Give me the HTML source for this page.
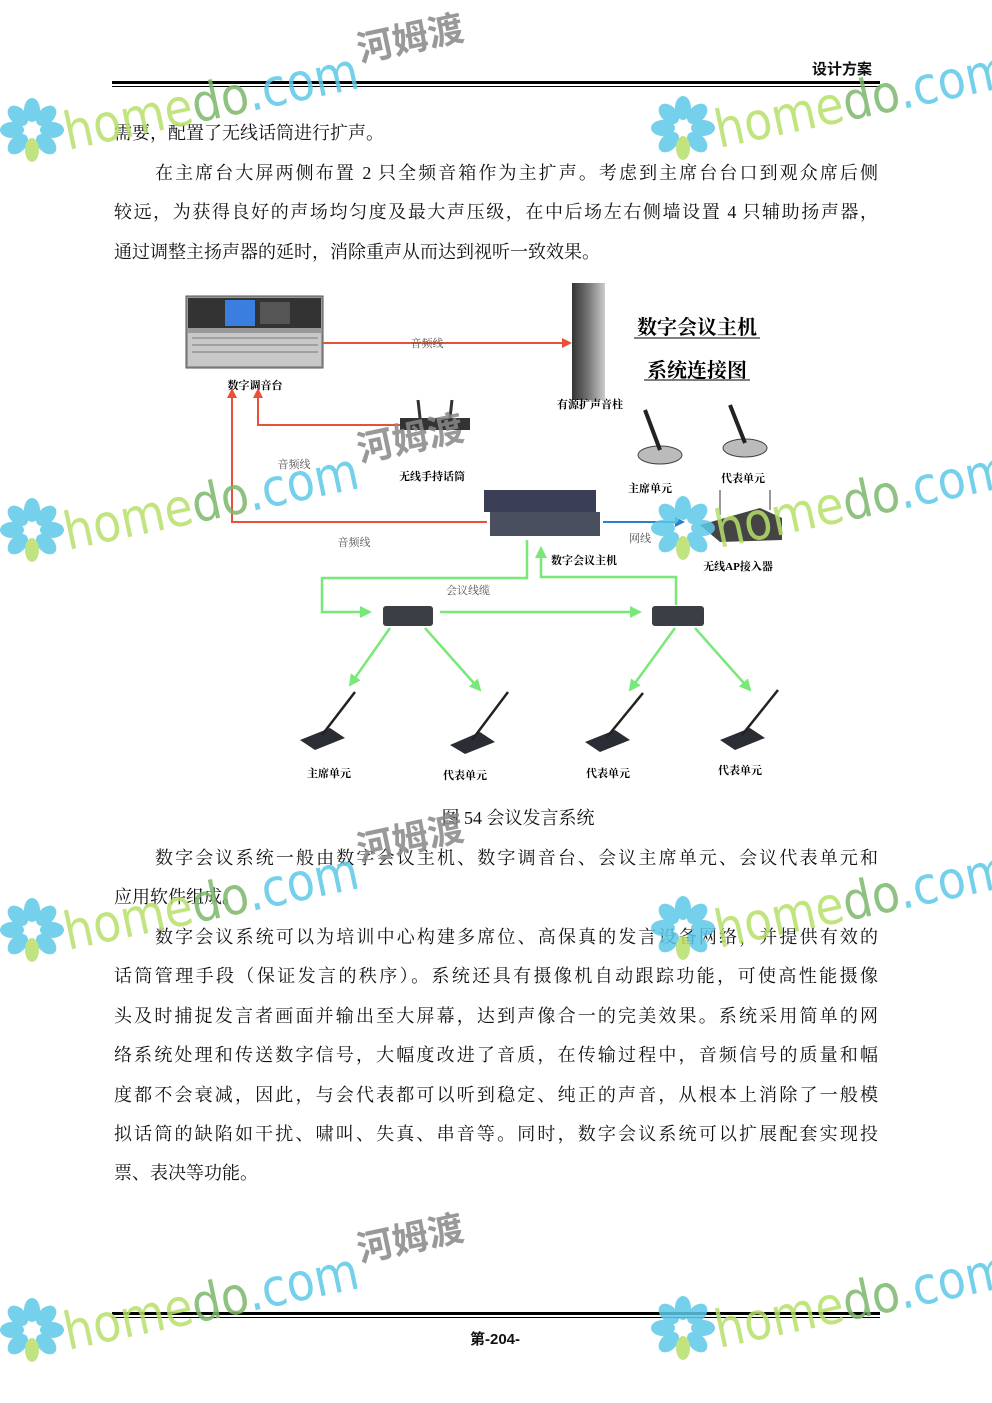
<!DOCTYPE html>
<html><head><meta charset="utf-8">
<style>
html,body{margin:0;padding:0;background:#fff;}
body{width:992px;height:1403px;position:relative;overflow:hidden;font-family:"Liberation Serif","Noto Serif CJK SC",serif;color:#111;}
.l{position:absolute;left:114px;width:764px;font-size:18px;line-height:24px;white-space:nowrap;}
.j{text-align:justify;text-align-last:justify;}
.ind{left:155px;width:723px;}
.abs{position:absolute;}
svg text.d{font-family:"Liberation Serif","Noto Serif CJK SC",serif;}
svg text.wm{font-family:"DejaVu Sans",sans-serif;}
svg text.cn{font-family:"Noto Sans CJK SC",sans-serif;font-weight:bold;}
</style></head><body>

<div class="abs" style="left:812px;top:58px;font-family:'Liberation Sans','Noto Sans CJK SC',sans-serif;font-weight:bold;font-size:15px;">设计方案</div>
<div class="abs" style="left:112px;top:81px;width:768px;height:3px;background:#000;"></div>
<div class="abs" style="left:112px;top:86px;width:768px;height:1px;background:#000;"></div>

<div class="l" style="top:121px;">需要，配置了无线话筒进行扩声。</div>
<div class="l ind j" style="top:161px;">在主席台大屏两侧布置 2 只全频音箱作为主扩声。考虑到主席台台口到观众席后侧</div>
<div class="l j" style="top:200px;">较远，为获得良好的声场均匀度及最大声压级，在中后场左右侧墙设置 4 只辅助扬声器，</div>
<div class="l" style="top:240px;">通过调整主扬声器的延时，消除重声从而达到视听一致效果。</div>

<svg class="abs" style="left:0;top:0" width="992" height="1403">
<defs>
<marker id="ar" markerWidth="10" markerHeight="10" refX="8" refY="5" orient="auto" markerUnits="userSpaceOnUse"><path d="M0,0 L10,5 L0,10 z" fill="#e8503a"/></marker>
<marker id="ag" markerWidth="12" markerHeight="12" refX="10" refY="6" orient="auto" markerUnits="userSpaceOnUse"><path d="M0,0 L12,6 L0,12 z" fill="#78e878"/></marker>
<marker id="ab" markerWidth="10" markerHeight="10" refX="8" refY="5" orient="auto" markerUnits="userSpaceOnUse"><path d="M0,0 L10,5 L0,10 z" fill="#2a7fc8"/></marker>
<linearGradient id="sp" x1="0" x2="1"><stop offset="0" stop-color="#333"/><stop offset="0.5" stop-color="#777"/><stop offset="1" stop-color="#ccc"/></linearGradient>
</defs>
<!-- mixer -->
<rect x="186" y="296" width="137" height="72" fill="#999" stroke="#555"/>
<rect x="188" y="298" width="133" height="30" fill="#333"/>
<rect x="225" y="300" width="30" height="26" fill="#3a7ee0"/>
<rect x="260" y="302" width="30" height="22" fill="#555"/>
<rect x="188" y="333" width="133" height="33" fill="#c8c8c8"/>
<g stroke="#777" stroke-width="1">
<line x1="192" y1="338" x2="318" y2="338"/><line x1="192" y1="345" x2="318" y2="345"/><line x1="192" y1="352" x2="318" y2="352"/>
</g>
<text class="d" x="255" y="389" font-size="11" text-anchor="middle" font-weight="bold">数字调音台</text>
<!-- red lines -->
<line x1="323" y1="343" x2="570" y2="343" stroke="#e8503a" stroke-width="2" marker-end="url(#ar)"/>
<text class="d" x="427" y="347" font-size="11" text-anchor="middle" fill="#555">音频线</text>
<polyline points="487,522 232,522 232,390" fill="none" stroke="#e8503a" stroke-width="2" marker-end="url(#ar)"/>
<polyline points="400,425 258,425 258,390" fill="none" stroke="#e8503a" stroke-width="2" marker-end="url(#ar)"/>
<text class="d" x="354" y="546" font-size="11" text-anchor="middle" fill="#555">音频线</text>
<text class="d" x="294" y="468" font-size="11" text-anchor="middle" fill="#555">音频线</text>
<!-- speaker -->
<rect x="572" y="283" width="33" height="117" fill="url(#sp)"/>
<text class="d" x="590" y="408" font-size="11" text-anchor="middle" font-weight="bold">有源扩声音柱</text>
<text class="d" x="697" y="334" font-size="20" text-anchor="middle" font-weight="bold">数字会议主机</text>
<line x1="634" y1="338" x2="760" y2="338" stroke="#000"/>
<text class="d" x="697" y="377" font-size="20" text-anchor="middle" font-weight="bold">系统连接图</text>
<line x1="644" y1="380" x2="750" y2="380" stroke="#000"/>
<!-- receiver -->
<rect x="400" y="418" width="70" height="12" fill="#333"/>
<line x1="420" y1="418" x2="418" y2="400" stroke="#333" stroke-width="3"/><line x1="450" y1="418" x2="452" y2="400" stroke="#333" stroke-width="3"/>
<text class="d" x="432" y="480" font-size="11" text-anchor="middle" font-weight="bold">无线手持话筒</text>
<!-- top mics -->
<ellipse cx="660" cy="455" rx="22" ry="9" fill="#bbb" stroke="#444"/><line x1="660" y1="450" x2="645" y2="410" stroke="#222" stroke-width="4"/>
<ellipse cx="745" cy="448" rx="22" ry="9" fill="#bbb" stroke="#444"/><line x1="745" y1="443" x2="730" y2="405" stroke="#222" stroke-width="4"/>
<text class="d" x="650" y="492" font-size="11" text-anchor="middle" font-weight="bold">主席单元</text>
<text class="d" x="743" y="482" font-size="11" text-anchor="middle" font-weight="bold">代表单元</text>
<!-- host -->
<rect x="484" y="490" width="112" height="22" fill="#3a3f55"/>
<rect x="490" y="512" width="110" height="24" fill="#4a4f60"/>
<text class="d" x="584" y="564" font-size="11" text-anchor="middle" font-weight="bold">数字会议主机</text>
<line x1="603" y1="522" x2="683" y2="522" stroke="#2a7fc8" stroke-width="2" marker-end="url(#ab)"/>
<text class="d" x="640" y="542" font-size="11" text-anchor="middle" fill="#555">网线</text>
<!-- AP -->
<polygon points="700,525 760,508 782,518 782,540 720,542" fill="#444"/>
<line x1="720" y1="515" x2="720" y2="490" stroke="#999" stroke-width="2"/><line x1="770" y1="510" x2="770" y2="490" stroke="#999" stroke-width="2"/>
<text class="d" x="738" y="570" font-size="11" text-anchor="middle" font-weight="bold">无线AP接入器</text>
<!-- green -->
<g stroke="#78e878" stroke-width="2.5" fill="none">
<polyline points="527,540 527,578 322,578 322,612 370,612" marker-end="url(#ag)"/>
<line x1="440" y1="612" x2="640" y2="612" marker-end="url(#ag)"/>
<polyline points="676,605 676,577 541,577 541,548" marker-end="url(#ag)"/>
<line x1="390" y1="628" x2="350" y2="685" marker-end="url(#ag)"/>
<line x1="425" y1="628" x2="480" y2="690" marker-end="url(#ag)"/>
<line x1="675" y1="628" x2="630" y2="690" marker-end="url(#ag)"/>
<line x1="695" y1="628" x2="750" y2="690" marker-end="url(#ag)"/>
</g>
<text class="d" x="468" y="594" font-size="11" text-anchor="middle" fill="#555">会议线缆</text>
<rect x="383" y="606" width="50" height="20" rx="3" fill="#3a3f45"/>
<rect x="652" y="606" width="52" height="20" rx="3" fill="#3a3f45"/>
<!-- bottom mics -->
<g fill="#2a2d33">
<polygon points="300,740 330,728 345,738 315,750"/><polygon points="450,745 480,732 495,742 465,754"/>
<polygon points="585,742 615,730 630,740 600,752"/><polygon points="720,740 750,728 765,738 735,750"/>
</g>
<g stroke="#222" stroke-width="2.5">
<line x1="322" y1="735" x2="355" y2="692"/><line x1="472" y1="740" x2="508" y2="692"/>
<line x1="607" y1="737" x2="643" y2="693"/><line x1="742" y1="735" x2="778" y2="690"/>
</g>
<g font-size="11" text-anchor="middle" font-weight="bold">
<text class="d" x="329" y="777">主席单元</text><text class="d" x="465" y="779">代表单元</text>
<text class="d" x="608" y="777">代表单元</text><text class="d" x="740" y="774">代表单元</text>
</g>
</svg>

<div class="abs" style="left:0;width:1036px;top:806px;text-align:center;font-size:18px;line-height:24px;">图 54 会议发言系统</div>

<div class="l ind j" style="top:846px;">数字会议系统一般由数字会议主机、数字调音台、会议主席单元、会议代表单元和</div>
<div class="l" style="top:885px;">应用软件组成。</div>
<div class="l ind j" style="top:925px;">数字会议系统可以为培训中心构建多席位、高保真的发言设备网络，并提供有效的</div>
<div class="l j" style="top:964px;">话筒管理手段（保证发言的秩序）。系统还具有摄像机自动跟踪功能，可使高性能摄像</div>
<div class="l j" style="top:1004px;">头及时捕捉发言者画面并输出至大屏幕，达到声像合一的完美效果。系统采用简单的网</div>
<div class="l j" style="top:1043px;">络系统处理和传送数字信号，大幅度改进了音质，在传输过程中，音频信号的质量和幅</div>
<div class="l j" style="top:1083px;">度都不会衰减，因此，与会代表都可以听到稳定、纯正的声音，从根本上消除了一般模</div>
<div class="l j" style="top:1122px;">拟话筒的缺陷如干扰、啸叫、失真、串音等。同时，数字会议系统可以扩展配套实现投</div>
<div class="l" style="top:1161px;">票、表决等功能。</div>

<div class="abs" style="left:112px;top:1312px;width:768px;height:3px;background:#000;"></div>
<div class="abs" style="left:112px;top:1317px;width:768px;height:1px;background:#000;"></div>
<div class="abs" style="left:470px;top:1328px;font-family:'Liberation Sans','Noto Sans CJK SC',sans-serif;font-weight:bold;font-size:15px;">第-204-</div>

<svg class="abs" style="left:0;top:0;opacity:0.85" width="992" height="1403">
<defs>
<g id="fl">
<g fill="#5cc8e8">
<ellipse cx="0" cy="-20" rx="8" ry="12"/><ellipse cx="0" cy="-20" rx="8" ry="12" transform="rotate(45)"/>
<ellipse cx="0" cy="-20" rx="8" ry="12" transform="rotate(90)"/><ellipse cx="0" cy="-20" rx="8" ry="12" transform="rotate(135)"/>
<ellipse cx="0" cy="-20" rx="8" ry="12" transform="rotate(225)"/><ellipse cx="0" cy="-20" rx="8" ry="12" transform="rotate(270)"/>
<ellipse cx="0" cy="-20" rx="8" ry="12" transform="rotate(315)"/>
</g>
<ellipse cx="0" cy="20" rx="7" ry="12" fill="#b8e06a"/>
</g>
<g id="wm">
<use href="#fl" x="32" y="130"/>
<text class="wm" x="68" y="150" transform="rotate(-12 68 150)" font-size="52" textLength="300" lengthAdjust="spacingAndGlyphs"><tspan fill="#b8e06a">home</tspan><tspan fill="#7cb86a">do</tspan><tspan fill="#5cc8e8">.com</tspan></text>
<text class="cn" x="360" y="62" transform="rotate(-12 360 62)" font-size="36" fill="#888">河姆渡</text>
</g>
</defs>
<use href="#wm"/><use href="#wm" x="651" y="-2"/>
<use href="#wm" y="400"/><use href="#wm" x="651" y="398"/>
<use href="#wm" y="800"/><use href="#wm" x="651" y="798"/>
<use href="#wm" y="1200"/><use href="#wm" x="651" y="1198"/>
</svg>
</body></html>
